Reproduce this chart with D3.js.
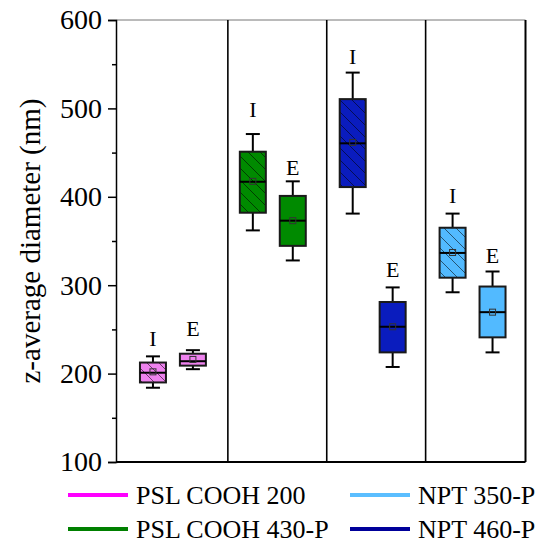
<!DOCTYPE html>
<html>
<head>
<meta charset="utf-8">
<script src="https://cdn.jsdelivr.net/npm/d3@7"></script>
<style>
  html, body { margin: 0; padding: 0; background: #fff; }
  svg { display: block; font-family: "Liberation Serif", "Times New Roman", serif; }
</style>
</head>
<body>
<svg id="chart" width="539" height="545"></svg>
<script>
// ---- data ----
const samples = ["PSL COOH 200", "PSL COOH 430-P", "NPT 460-P", "NPT 350-P"];
const conditions = ["I", "E"];
// per box: order = group0 I, group0 E, group1 I, ...
const boxGroup = [1, 1, 2, 2, 3, 3, 4, 4];
const boxCond  = ["I", "E", "I", "E", "I", "E", "I", "E"];
const whiskerMin = [184, 205, 362, 328, 381, 207.5, 292, 224];
const q1Values   = [190, 209, 382, 344.5, 411, 224, 308.5, 241];
const medians    = [201, 214, 417, 373, 460.5, 253, 336.5, 269.5];
const q3Values   = [212.5, 222.5, 451, 401, 510.5, 281, 365, 298.5];
const whiskerMax = [219.5, 226.5, 471, 417.5, 540.5, 297.5, 381, 315.5];
const means      = [202, 216, 417.5, 373, 461.5, 253, 337, 269.5];
const labelAt    = [231, 242, 490, 425, 550, 309, 393, 325];
const dividers   = [1.55, 2.54, 3.53];
const yTicks = [100, 200, 300, 400, 500, 600];
const yMinorTicks = [150, 250, 350, 450, 550];
const fillColors   = ["#EE82EE", "#008A00", "#0A1CBE", "#52BAFF"];
const legendColors = ["#FF00FF", "#008000", "#00009A", "#5BBEFF"];
const yTitle = "z-average diameter (nm)";

// ---- layout ----
const svg = d3.select("#chart");
const x = d3.scaleLinear().domain([0.43, 4.53]).range([116, 525.5]);
const y = d3.scaleLinear().domain([100, 600]).range([462, 20]);
const offset = {I: -0.2, E: 0.2};
const boxW = 26, capW = 14;

// hatch patterns
const defs = svg.append("defs");
fillColors.forEach((c, i) => {
  const p = defs.append("pattern")
    .attr("id", "hatch" + i)
    .attr("patternUnits", "userSpaceOnUse")
    .attr("width", 12).attr("height", 12);
  p.append("rect").attr("width", 12).attr("height", 12).attr("fill", c);
  p.append("path")
    .attr("d", "M0,0 L12,12 M-6,6 L6,18 M6,-6 L18,6")
    .attr("stroke", "#000").attr("stroke-opacity", 0.55).attr("stroke-width", 1);
});

// frame
const frame = svg.append("g");
frame.append("line").attr("x1", x(0.43)).attr("x2", x(4.53)).attr("y1", y(600)).attr("y2", y(600))
  .attr("stroke", "#777").attr("stroke-width", 1);
frame.append("line").attr("x1", x(4.53)).attr("x2", x(4.53)).attr("y1", y(600)).attr("y2", y(100))
  .attr("stroke", "#000").attr("stroke-width", 2);
frame.append("line").attr("x1", x(0.43)).attr("x2", x(4.53)).attr("y1", y(100)).attr("y2", y(100))
  .attr("stroke", "#000").attr("stroke-width", 2);
frame.selectAll("line.div").data(dividers).enter().append("line")
  .attr("class", "div")
  .attr("x1", d => x(d)).attr("x2", d => x(d))
  .attr("y1", y(600)).attr("y2", y(100))
  .attr("stroke", "#000").attr("stroke-width", 1.6);

// y axis
const yAxis = d3.axisLeft(y).tickValues(yTicks).tickSize(8).tickPadding(6).tickFormat(d3.format("d"));
const gy = svg.append("g").attr("transform", `translate(${x(0.43)},0)`).call(yAxis);
gy.select(".domain").attr("stroke", "#000").attr("stroke-width", 1.5);
gy.selectAll(".tick line").attr("stroke", "#000").attr("stroke-width", 1.5);
gy.selectAll(".tick text").attr("font-size", 28).attr("fill", "#000")
  .attr("font-family", "Liberation Serif, Times New Roman, serif");
const yMinor = d3.axisLeft(y).tickValues(yMinorTicks).tickSize(4).tickFormat("");
const gym = svg.append("g").attr("transform", `translate(${x(0.43)},0)`).call(yMinor);
gym.select(".domain").remove();
gym.selectAll(".tick line").attr("stroke", "#000").attr("stroke-width", 1.5);

svg.append("text")
  .attr("transform", `translate(40,${(y(100) + y(600)) / 2}) rotate(-90)`)
  .attr("text-anchor", "middle")
  .attr("font-size", 29)
  .attr("fill", "#000")
  .text(yTitle);

// boxes
const idx = d3.range(boxGroup.length);
const boxes = svg.append("g").selectAll("g.box").data(idx).enter().append("g").attr("class", "box");
const cx = i => x(boxGroup[i] + offset[boxCond[i]]);
const gi = i => boxGroup[i] - 1;

// whiskers
boxes.append("line")
  .attr("x1", cx).attr("x2", cx)
  .attr("y1", i => y(whiskerMax[i])).attr("y2", i => y(q3Values[i]))
  .attr("stroke", "#000").attr("stroke-width", 2);
boxes.append("line")
  .attr("x1", cx).attr("x2", cx)
  .attr("y1", i => y(q1Values[i])).attr("y2", i => y(whiskerMin[i]))
  .attr("stroke", "#000").attr("stroke-width", 2);
boxes.append("line")
  .attr("x1", i => cx(i) - capW / 2).attr("x2", i => cx(i) + capW / 2)
  .attr("y1", i => y(whiskerMax[i])).attr("y2", i => y(whiskerMax[i]))
  .attr("stroke", "#000").attr("stroke-width", 2);
boxes.append("line")
  .attr("x1", i => cx(i) - capW / 2).attr("x2", i => cx(i) + capW / 2)
  .attr("y1", i => y(whiskerMin[i])).attr("y2", i => y(whiskerMin[i]))
  .attr("stroke", "#000").attr("stroke-width", 2);

// box rect
boxes.append("rect")
  .attr("x", i => cx(i) - boxW / 2)
  .attr("width", boxW)
  .attr("y", i => y(q3Values[i]))
  .attr("height", i => y(q1Values[i]) - y(q3Values[i]))
  .attr("fill", i => boxCond[i] === "I" ? `url(#hatch${gi(i)})` : fillColors[gi(i)])
  .attr("stroke", "#1a1a1a").attr("stroke-width", 2);

// median
boxes.append("line")
  .attr("x1", i => cx(i) - boxW / 2).attr("x2", i => cx(i) + boxW / 2)
  .attr("y1", i => y(medians[i])).attr("y2", i => y(medians[i]))
  .attr("stroke", "#000").attr("stroke-width", 2);

// mean marker
boxes.append("rect")
  .attr("x", i => cx(i) - 3).attr("y", i => y(means[i]) - 3)
  .attr("width", 6).attr("height", 6)
  .attr("fill", "none").attr("stroke", "#333").attr("stroke-width", 1);

// labels
boxes.append("text")
  .attr("x", cx).attr("y", i => y(labelAt[i]))
  .attr("text-anchor", "middle")
  .attr("font-size", 22).attr("fill", "#000")
  .text(i => boxCond[i]);

// legend
const legendOrder = [0, 3, 1, 2];
const legendPos = [[68, 495], [350, 495], [68, 529], [350, 529]];
const leg = svg.append("g").selectAll("g").data(legendOrder).enter().append("g")
  .attr("transform", (d, k) => `translate(${legendPos[k][0]},${legendPos[k][1]})`);
leg.append("line").attr("x1", 0).attr("x2", 60).attr("y1", 0).attr("y2", 0)
  .attr("stroke", d => legendColors[d]).attr("stroke-width", 4);
leg.append("text").attr("x", 68).attr("y", 8.5)
  .attr("font-size", 26).attr("fill", "#000")
  .text(d => samples[d]);
</script>
</body>
</html>
